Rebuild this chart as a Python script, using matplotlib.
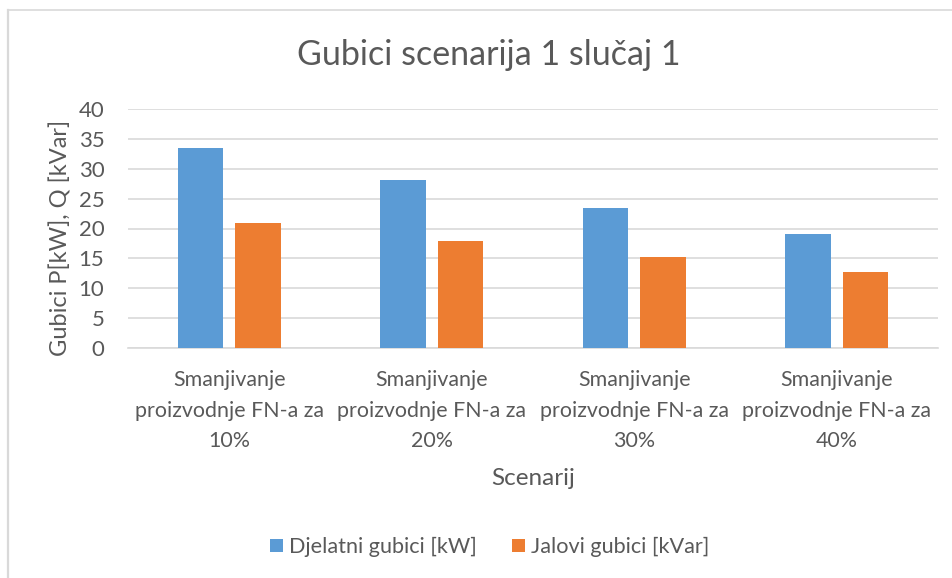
import matplotlib.pyplot as plt
import numpy as np
from matplotlib.lines import Line2D

categories = ["Smanjivanje\nproizvodnje FN-a za\n10%", "Smanjivanje\nproizvodnje FN-a za\n20%",
              "Smanjivanje\nproizvodnje FN-a za\n30%", "Smanjivanje\nproizvodnje FN-a za\n40%"]
djelatni = [33.4, 28.15, 23.4, 19.05]
jalovi = [20.85, 17.93, 15.2, 12.8]
series_names = ["Djelatni gubici [kW]", "Jalovi gubici [kVar]"]
yticks = [0, 5, 10, 15, 20, 25, 30, 35, 40]

plt.rcParams['font.family'] = ['Lato', 'DejaVu Sans']
txt = '#595959'

fig = plt.figure(figsize=(9.53, 5.78), dpi=100)
ax = fig.add_axes([128/953, 1-348/578, 810/953, 239/578])

x = np.arange(len(categories))
w = 0.224
off = 0.142
ax.bar(x - off, djelatni, w, color='#5B9BD5', label=series_names[0], zorder=3)
ax.bar(x + off, jalovi, w, color='#ED7D31', label=series_names[1], zorder=3)

ax.set_xlim(-0.5, 3.5)
ax.set_ylim(0, 40)
ax.set_yticks(yticks)
ax.grid(axis='y', color='#D9D9D9', linewidth=1.2, zorder=0)
for s in ['top', 'right', 'left']:
    ax.spines[s].set_visible(False)
ax.spines['bottom'].set_color('#D9D9D9')
ax.spines['bottom'].set_linewidth(1.2)
ax.tick_params(axis='y', length=0, colors=txt, labelsize=16, pad=17)
ax.set_xticks(x)
ax.set_xticklabels(categories, fontsize=15.4, color=txt)
for lab in ax.get_xticklabels():
    lab.set_linespacing(1.66)
ax.tick_params(axis='x', length=0, colors=txt, pad=16)

ax.set_xlabel("Scenarij", fontsize=17.5, color=txt, labelpad=12)
fig.text(60/953, 1-238/578, "Gubici P[kW], Q [kVar]", rotation=90, ha='center', va='center',
         fontsize=17, color=txt)

fig.text(489/953, 1-55/578, "Gubici scenarija 1 slučaj 1", ha='center', va='center',
         fontsize=24.5, color=txt)

leg = fig.legend(loc='center', bbox_to_anchor=(0.514, 1-547/578), ncol=2, frameon=False,
                 fontsize=15.6, labelcolor=txt, handlelength=0.6, handleheight=0.6,
                 columnspacing=1.6, handletextpad=0.3)

fig.add_artist(Line2D([8/953, 1], [1-10/578, 1-10/578], transform=fig.transFigure,
                      color='#D9D9D9', linewidth=1.2))
fig.add_artist(Line2D([8/953, 8/953], [0, 1-10/578], transform=fig.transFigure,
                      color='#D9D9D9', linewidth=1.6))

fig.savefig('out.png', dpi=100)
